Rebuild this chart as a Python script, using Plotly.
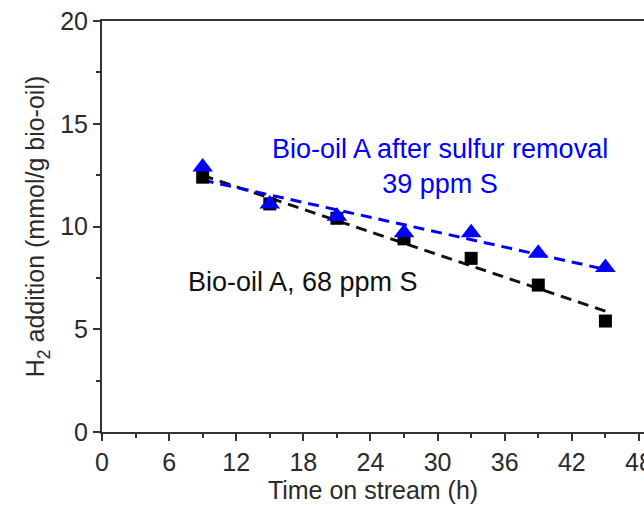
import numpy as np
import plotly.graph_objects as go

# Time on stream (h)
hours = [9, 15, 21, 27, 33, 39, 45]
# H2 addition (mmol/g bio-oil)
h2_after_removal = [12.9, 11.1, 10.5, 9.7, 9.7, 8.7, 8.0]   # 39 ppm S
h2_bio_oil_a = [12.4, 11.1, 10.4, 9.4, 8.45, 7.15, 5.4]    # 68 ppm S

x_ticks = [0, 6, 12, 18, 24, 30, 36, 42, 48]
y_ticks = [0, 5, 10, 15, 20]

FONT = "Liberation Sans, Arial, sans-serif"
TXT = "#2a2a2a"
AXIS = "#333333"


def linear_fit(x, y):
    slope, intercept = np.polyfit(x, y, 1)
    xs = np.array([min(x), max(x)], dtype=float)
    return xs, slope * xs + intercept


fig = go.Figure()

# dashed linear trend lines
for ys, color in [(h2_bio_oil_a, "#111111"), (h2_after_removal, "#0000ff")]:
    fx, fy = linear_fit(hours, ys)
    fig.add_trace(go.Scatter(
        x=fx, y=fy, mode="lines",
        line=dict(color=color, width=3, dash="11px,7px"),
        hoverinfo="skip", showlegend=False,
    ))

fig.add_trace(go.Scatter(
    x=hours, y=h2_bio_oil_a, mode="markers",
    marker=dict(symbol="square", size=13, color="#000000"),
    name="Bio-oil A, 68 ppm S", showlegend=False,
))
fig.add_trace(go.Scatter(
    x=hours, y=h2_after_removal, mode="markers",
    marker=dict(symbol="triangle-up", size=18, color="#0000ff"),
    name="Bio-oil A after sulfur removal, 39 ppm S", showlegend=False,
))

fig.add_annotation(
    x=30.2, y=12.9, xref="x", yref="y",
    text="Bio-oil A after sulfur removal<br>39 ppm S",
    showarrow=False, align="center",
    font=dict(family=FONT, size=27, color="#0000ff"),
)
fig.add_annotation(
    x=18.0, y=7.3, xref="x", yref="y",
    text="Bio-oil A, 68 ppm S",
    showarrow=False, align="center",
    font=dict(family=FONT, size=27, color="#111111"),
)

axis_common = dict(
    showgrid=False, zeroline=False,
    showline=True, linecolor=AXIS, linewidth=2,
    ticks="outside", tickcolor=AXIS, tickwidth=2, ticklen=7,
    tickfont=dict(family=FONT, size=25, color=TXT),
    ticklabeloverflow="allow", automargin=False,
)

fig.update_xaxes(
    range=[0, 48.45], tickvals=x_ticks, mirror=True,
    minor=dict(ticks="outside", ticklen=4, tickwidth=2, tickcolor=AXIS, dtick=3, tick0=0),
    title=dict(text="Time on stream (h)", font=dict(family=FONT, size=25, color=TXT), standoff=2),
    **axis_common,
)
fig.update_yaxes(
    range=[0, 20], tickvals=y_ticks,
    minor=dict(ticks="outside", ticklen=4, tickwidth=2, tickcolor=AXIS, dtick=2.5, tick0=0),
    title=dict(text="H<sub>2</sub> addition (mmol/g bio-oil)",
               font=dict(family=FONT, size=25, color=TXT), standoff=8),
    **axis_common,
)

fig.update_layout(
    width=644, height=507,
    margin=dict(l=102, r=0, t=21, b=75),
    paper_bgcolor="white", plot_bgcolor="white",
)

fig.write_html("out.html")
